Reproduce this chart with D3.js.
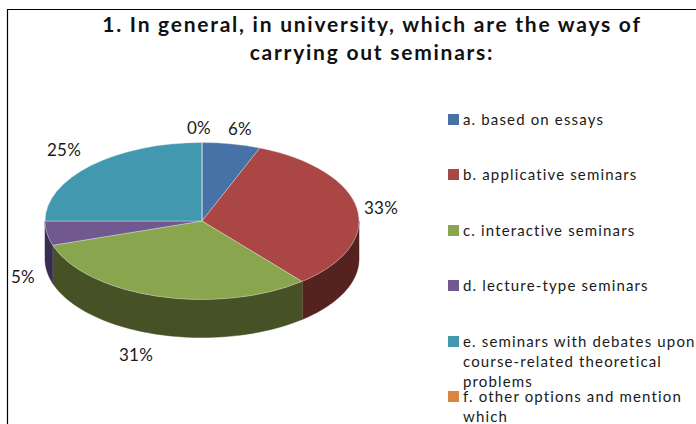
<!DOCTYPE html>
<html>
<head>
<meta charset="utf-8">
<script src="https://cdnjs.cloudflare.com/ajax/libs/d3/7.8.5/d3.min.js"></script>
<style>
  html, body { margin: 0; padding: 0; background: #fff; overflow: hidden; }
  svg { display: block; }
</style>
</head>
<body>
<script>
// Chart values
var titleLines = ['1. In general, in university, which are the ways of', 'carrying out seminars:'];
var categories = [
  ['a. based on essays'],
  ['b. applicative seminars'],
  ['c. interactive seminars'],
  ['d. lecture-type seminars'],
  ['e. seminars with debates upon', 'course-related theoretical', 'problems'],
  ['f. other options and mention', 'which']
];
var values = [6, 33, 31, 5, 25, 0];

var topColors = ['#4672a7', '#aa4744', '#89a54e', '#71588f', '#4198af', '#db843d'];
var wallColors = ['#2a4566', '#54221f', '#475126', '#392d50', '#256070', '#8a5020'];

// Layout
var width = 696, height = 424;
var cx = 202, cy = 221, rx = 157, ry = 78.5, depth = 38;
var labelPos = [[240, 129], [381, 208], [136, 355], [23, 277], [64, 150], [199, 128]];
var legendTop = [114, 169, 225, 280, 336, 391];

var svg = d3.select('body').append('svg')
  .attr('width', width)
  .attr('height', height)
  .attr('font-family', 'Lato, "Open Sans", sans-serif');

svg.append('rect').attr('width', width).attr('height', height).attr('fill', '#fff');

// frame, only top and left fall inside the crop
svg.append('path')
  .attr('d', 'M7.5,' + height + 'V9.5H' + width)
  .attr('fill', 'none')
  .attr('stroke', '#000')
  .attr('stroke-width', 1.2);

// title
svg.selectAll('.title').data(titleLines).enter().append('text')
  .attr('class', 'title')
  .attr('x', 372)
  .attr('y', (d, i) => 32 + i * 28)
  .attr('text-anchor', 'middle')
  .attr('font-size', 21)
  .attr('font-weight', 700)
  .attr('letter-spacing', 1.75)
  .attr('fill', '#111')
  .text(d => d);

var pie = d3.pie().sort(null).value(d => d);
var slices = pie(values);

function px(a) { return cx + rx * Math.sin(a); }
function py(a) { return cy - ry * Math.cos(a); }

// walls of the front half of the disc
function wallPath(a0, a1) {
  var p = d3.path();
  p.moveTo(px(a0), py(a0));
  var n = 60;
  d3.range(n + 1).forEach(i => {
    var a = a0 + (a1 - a0) * i / n;
    p.lineTo(px(a), py(a));
  });
  d3.range(n + 1).forEach(i => {
    var a = a1 - (a1 - a0) * i / n;
    p.lineTo(px(a), py(a) + depth);
  });
  p.closePath();
  return p.toString();
}

var chart = svg.append('g');

slices.forEach((s, i) => {
  var a0 = Math.max(s.startAngle, Math.PI / 2);
  var a1 = Math.min(s.endAngle, Math.PI * 1.5);
  if (a1 <= a0) return;
  chart.append('path')
    .attr('class', 'wall')
    .attr('d', wallPath(a0, a1))
    .attr('fill', wallColors[i])
    .attr('stroke', wallColors[i])
    .attr('stroke-width', 0.5);
  // pale seam where two slices meet on the wall
  if (s.endAngle < Math.PI * 1.5) {
    chart.append('line')
      .attr('x1', px(s.endAngle)).attr('y1', py(s.endAngle))
      .attr('x2', px(s.endAngle)).attr('y2', py(s.endAngle) + depth)
      .attr('stroke', '#a9ab9c')
      .attr('stroke-width', 0.7);
  }
});

// top of the disc, flat arcs squashed to an ellipse
var arc = d3.arc().innerRadius(0).outerRadius(rx);
chart.append('g')
  .attr('transform', 'translate(' + cx + ',' + cy + ') scale(1,' + (ry / rx) + ')')
  .selectAll('path').data(slices).enter().append('path')
  .attr('d', arc)
  .attr('fill', (d, i) => topColors[i])
  .attr('stroke', 'rgba(225,232,225,0.55)')
  .attr('stroke-width', 0.7)
  .attr('vector-effect', 'non-scaling-stroke');

// percent labels
svg.selectAll('.pct').data(slices).enter().append('text')
  .attr('class', 'pct')
  .attr('x', (d, i) => labelPos[i][0])
  .attr('y', (d, i) => labelPos[i][1] + 6)
  .attr('text-anchor', 'middle')
  .attr('font-size', 17)
  .attr('letter-spacing', 0.3)
  .attr('fill', '#1a1a1a')
  .text(d => d.data + '%');

// legend
var legend = svg.selectAll('.legend').data(categories).enter().append('g')
  .attr('class', 'legend')
  .attr('transform', (d, i) => 'translate(448,' + legendTop[i] + ')');

legend.append('rect')
  .attr('width', 11)
  .attr('height', 11)
  .attr('fill', (d, i) => topColors[i]);

legend.selectAll('text').data(d => d).enter().append('text')
  .attr('x', 15)
  .attr('y', (d, i) => 11 + i * 20)
  .attr('font-size', 15)
  .attr('letter-spacing', 1.15)
  .attr('fill', '#1a1a1a')
  .text(d => d);
</script>
</body>
</html>
